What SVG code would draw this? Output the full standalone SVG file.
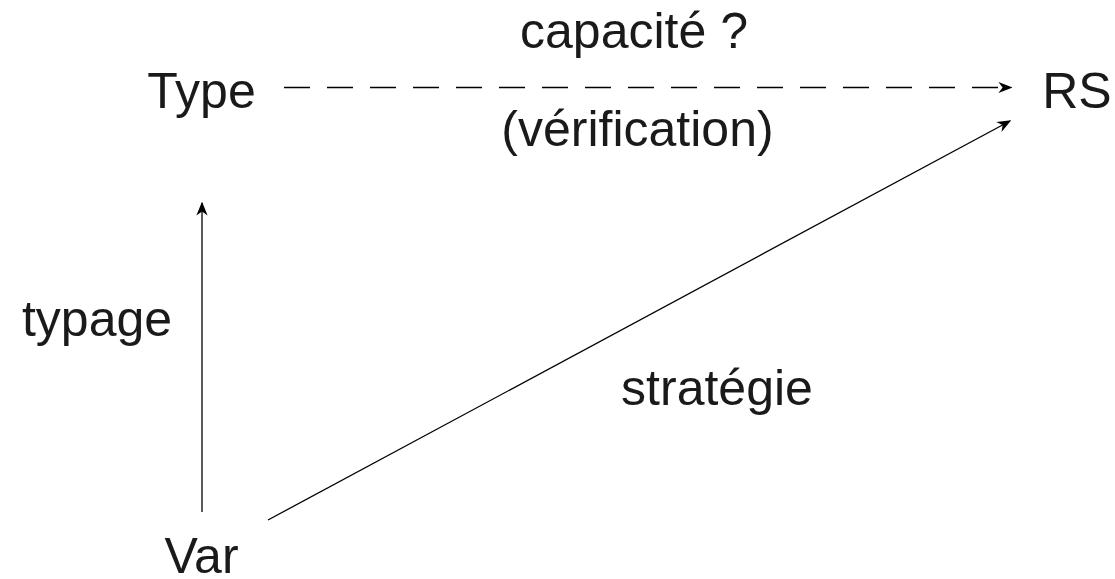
<svg xmlns="http://www.w3.org/2000/svg" width="1115" height="579" viewBox="0 0 1115 579">
  <style>
    .lbl { font-family: "Liberation Sans", Arial, sans-serif; font-size: 50px; fill: #1a1a1a; text-anchor: middle; }
    .edge { stroke: #000; stroke-width: 1.3; fill: none; }
    .dashed { stroke-dasharray: 26 17; }
  </style>
  <defs>
    <marker id="arrow" viewBox="0 0 10 10" refX="9" refY="5" markerWidth="14" markerHeight="14" markerUnits="userSpaceOnUse" orient="auto">
      <path d="M0,1 L10,5 L0,9 L3,5 Z" fill="#000"/>
    </marker>
  </defs>
  <rect width="1115" height="579" fill="#fff"/>

  <g id="connectors">
    <line class="edge dashed" x1="284" y1="87.5" x2="1011" y2="87.5" marker-end="url(#arrow)"/>
    <line class="edge" x1="202" y1="512" x2="202" y2="203" marker-end="url(#arrow)"/>
    <line class="edge" x1="268" y1="520" x2="1010" y2="121" marker-end="url(#arrow)"/>
  </g>

  <g id="node-type"><text class="lbl" x="201.5" y="108">Type</text></g>
  <g id="node-rs"><text class="lbl" x="1077" y="108">RS</text></g>
  <g id="node-var"><text class="lbl" x="201.5" y="573">Var</text></g>

  <g id="labels">
    <text class="lbl" x="634" y="48">capacité ?</text>
    <text class="lbl" x="637.5" y="146">(vérification)</text>
    <text class="lbl" x="97" y="336">typage</text>
    <text class="lbl" x="717" y="405">stratégie</text>
  </g>
</svg>
